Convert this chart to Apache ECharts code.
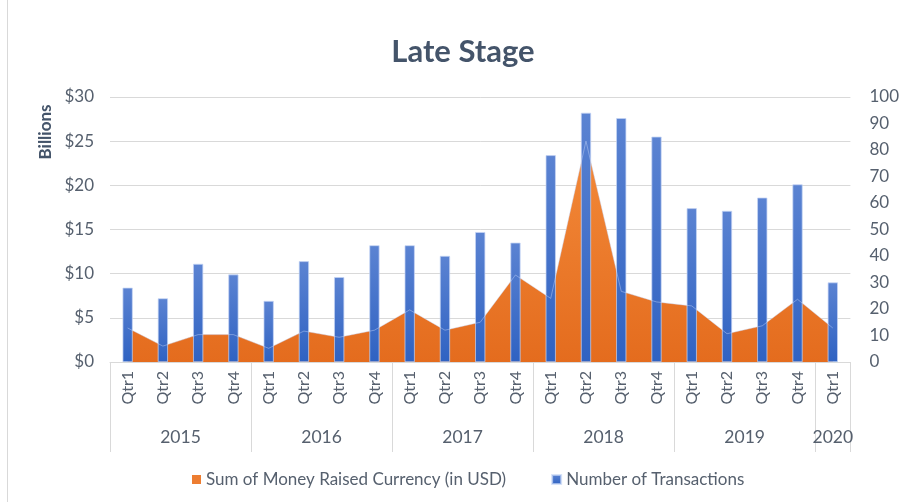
<!DOCTYPE html>
<html>
<head>
<meta charset="utf-8">
<style>
  html, body { margin: 0; padding: 0; background: #fff; }
  #chart { width: 902px; height: 502px; }
</style>
</head>
<body>
<div id="chart"></div>
<script src="https://cdn.jsdelivr.net/npm/echarts@6/dist/echarts.min.js"></script>
<script>
// quarters along the bottom, grouped by year
var quarters = ['Qtr1','Qtr2','Qtr3','Qtr4', 'Qtr1','Qtr2','Qtr3','Qtr4', 'Qtr1','Qtr2','Qtr3','Qtr4',
                'Qtr1','Qtr2','Qtr3','Qtr4', 'Qtr1','Qtr2','Qtr3','Qtr4', 'Qtr1'];
var years = ['2015', '2016', '2017', '2018', '2019', '2020'];
var yearSizes = [4, 4, 4, 4, 4, 1];

// money raised, billions USD (left axis)
var moneyRaised = [3.85, 1.8, 3.1, 3.1, 1.55, 3.5, 2.8, 3.6, 5.9, 3.6, 4.5, 9.85,
                   7.2, 25.0, 8.0, 6.8, 6.35, 3.2, 4.1, 7.1, 3.85];
// number of deals (right axis)
var transactions = [28, 24, 37, 33, 23, 38, 32, 44, 44, 40, 49, 45,
                    78, 94, 92, 85, 58, 57, 62, 67, 30];

var leftTicks = { min: 0, max: 30, step: 5 };
var rightTicks = { min: 0, max: 100, step: 10 };

// year row: half-quarter slots so that labels sit in the middle of each group
var yearSlots = [], yearBounds = [0], pos = 0;
for (var i = 0; i <= quarters.length * 2; i++) yearSlots.push('');
years.forEach(function (y, k) {
  yearSlots[pos + yearSizes[k]] = y;
  pos += yearSizes[k] * 2;
  yearBounds.push(pos);
});

var font = 'Lato, "Open Sans", sans-serif';
var txt = '#56606e';

var chart = echarts.init(document.getElementById('chart'));
chart.setOption({
  textStyle: { fontFamily: font },
  title: {
    text: 'Late Stage',
    left: 458, top: 31, textAlign: 'center',
    textStyle: { fontSize: 31, fontWeight: 'bold', color: '#44546a', fontFamily: font }
  },
  graphic: [
    { type: 'line', shape: { x1: 7.5, y1: 0, x2: 7.5, y2: 502 }, style: { stroke: '#d9d9d9', lineWidth: 1 } },
    {
      type: 'text', x: 46, y: 132, rotation: Math.PI / 2,
      style: { text: 'Billions', fontSize: 17, fontWeight: 'bold', fill: '#44546a', fontFamily: font,
               textAlign: 'center', textVerticalAlign: 'middle' }
    }
  ],
  legend: {
    top: 466, left: 187,
    itemWidth: 9, itemHeight: 9, itemGap: 45,
    icon: 'rect',
    data: ['Sum of Money Raised Currency (in USD)', 'Number of Transactions'],
    textStyle: { fontSize: 17, color: txt, fontFamily: font }
  },
  grid: { left: 110, right: 48, top: 97, bottom: 140 },
  xAxis: [
    {
      type: 'category', data: quarters, boundaryGap: true,
      axisLine: { lineStyle: { color: '#d9d9d9' } },
      axisTick: { show: false },
      axisLabel: { rotate: 90, interval: 0, margin: 9, fontSize: 16, color: txt, fontFamily: font }
    },
    {
      type: 'category', data: yearSlots, boundaryGap: false, position: 'bottom',
      axisLine: { show: false },
      axisTick: {
        show: true, length: 90,
        interval: function (idx) { return yearBounds.indexOf(idx) >= 0; },
        lineStyle: { color: '#d9d9d9' }
      },
      axisLabel: { interval: 0, margin: 66, fontSize: 17.5, color: txt, fontFamily: font }
    }
  ],
  yAxis: [
    {
      type: 'value', min: leftTicks.min, max: leftTicks.max, interval: leftTicks.step,
      axisLabel: { formatter: '${value}', fontSize: 17, margin: 16, color: txt, fontFamily: font },
      axisLine: { show: false }, axisTick: { show: false },
      splitLine: { lineStyle: { color: '#d9d9d9' } }
    },
    {
      type: 'value', min: rightTicks.min, max: rightTicks.max, interval: rightTicks.step,
      position: 'right',
      axisLabel: { fontSize: 17, margin: 19, color: txt, fontFamily: font },
      axisLine: { show: false }, axisTick: { show: false },
      splitLine: { show: false }
    }
  ],
  series: [
    {
      name: 'Sum of Money Raised Currency (in USD)',
      type: 'line', data: moneyRaised, yAxisIndex: 0, z: 1,
      symbol: 'none',
      lineStyle: { width: 0 },
      itemStyle: { color: '#ed7d31' },
      areaStyle: {
        opacity: 1,
        color: new echarts.graphic.LinearGradient(0, 0, 0, 1, [
          { offset: 0, color: '#f38a3a' }, { offset: 1, color: '#e46c1e' }
        ])
      }
    },
    {
      name: 'Number of Transactions',
      type: 'bar', data: transactions, yAxisIndex: 1, barWidth: 10, z: 2,
      itemStyle: {
        color: new echarts.graphic.LinearGradient(0, 0, 0, 1, [
          { offset: 0, color: '#5b83d2' }, { offset: 1, color: '#2f62c2' }
        ]),
        borderColor: 'rgba(200,215,245,0.7)', borderWidth: 0.6
      }
    },
    {
      name: 'outline', type: 'line', data: moneyRaised, yAxisIndex: 0, z: 3,
      symbol: 'none', silent: true,
      lineStyle: { width: 0.8, color: 'rgba(200,215,250,0.55)' }
    }
  ]
});
</script>
</body>
</html>
